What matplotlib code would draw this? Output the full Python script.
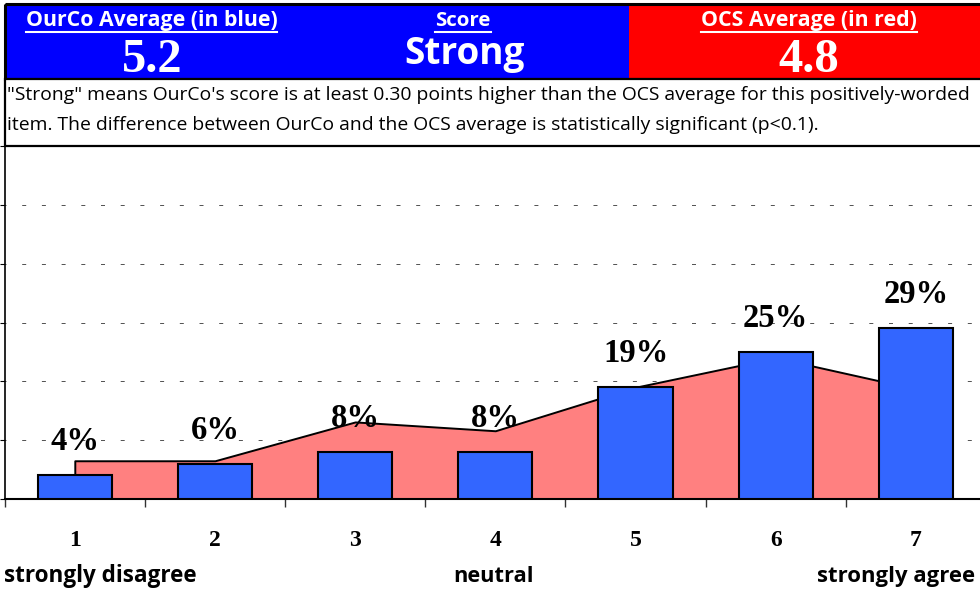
import matplotlib
matplotlib.use("Agg")
import matplotlib.pyplot as plt
from matplotlib.patches import Rectangle
from matplotlib.lines import Line2D

# --- data -------------------------------------------------------------
categories = ["1", "2", "3", "4", "5", "6", "7"]
ourco_pct = [4, 6, 8, 8, 19, 25, 29]
ocs_pct = [6.5, 6.5, 13.1, 11.6, 19.0, 24.0, 18.7]
ourco_avg = "5.2"
ocs_avg = "4.8"
score_label = "Strong"
header_titles = ["OurCo Average (in blue)", "Score", "OCS Average (in red)"]
description = [
    "\"Strong\" means OurCo's score is at least 0.30 points higher than the OCS average for this positively-worded",
    "item. The difference between OurCo and the OCS average is statistically significant (p<0.1).",
]
scale_labels = ["strongly disagree", "neutral", "strongly agree"]

SANS = ["Open Sans", "DejaVu Sans"]
SERIF = ["Liberation Serif", "DejaVu Serif"]

W, H = 980, 592
fig = plt.figure(figsize=(W / 100, H / 100), dpi=100)
renderer = fig.canvas.get_renderer()


def fit_width(t, width_px):
    """Rescale a text's font so its rendered width equals width_px."""
    bb = t.get_window_extent(renderer)
    t.set_fontsize(t.get_fontsize() * width_px / bb.width)
    return t


# --- chart axes -------------------------------------------------------
ax = fig.add_axes([4.7 / W, (H - 499) / H, 981.3 / W, 353 / H])
x = list(range(len(categories)))

ax.set_xlim(-0.5, 6.5)
ax.set_ylim(0, 60)
ax.set_axisbelow(True)

ax.fill_between(x, 0, ocs_pct, facecolor="#FF8080", edgecolor="black",
                linewidth=1.4, zorder=2)
ax.bar(x, ourco_pct, width=0.53, color="#3366FF", edgecolor="black",
       linewidth=1.5, zorder=3)

for xi, v in zip(x, ourco_pct):
    ax.annotate(f"{v}%", (xi, v), xytext=(0, 18), textcoords="offset points",
                ha="center", va="baseline", fontsize=23.5, fontweight="bold",
                family=SERIF, zorder=4)

ax.set_yticks(range(0, 61, 10))
ax.set_yticklabels([])
ax.tick_params(axis="y", direction="out", length=3.6, width=0.8, color="black")
ax.yaxis.grid(True, color="#555555", linewidth=0.72, linestyle=(3, (4, 15.7)))

ax.set_xticks(x)
ax.set_xticklabels(categories, fontsize=17, fontweight="bold", family=SERIF)
ax.tick_params(axis="x", length=0, pad=22.5)
ax.set_xticks([i - 0.5 for i in range(len(categories) + 1)], minor=True)
ax.tick_params(axis="x", which="minor", direction="out", length=5.8,
               width=1.0, color="#333333")

for side in ("top", "right"):
    ax.spines[side].set_visible(False)
ax.spines["left"].set_linewidth(1.2)
ax.spines["bottom"].set_linewidth(1.5)

# --- header overlay in pixel coordinates ------------------------------
ov = fig.add_axes([0, 0, 1, 1], zorder=5)
ov.set_xlim(0, W)
ov.set_ylim(H, 0)
ov.axis("off")
ov.patch.set_alpha(0)

ov.add_patch(Rectangle((4.5, 4.3), 629 - 4.5, 78.7 - 4.3, facecolor="#0000FF",
                       edgecolor="none"))
ov.add_patch(Rectangle((629, 4.3), 990 - 629, 78.7 - 4.3, facecolor="#FF0000",
                       edgecolor="none"))
ov.add_patch(Rectangle((4.5, 4.3), 990, 78.7 - 4.3, facecolor="none",
                       edgecolor="black", linewidth=2.2))
ov.add_patch(Rectangle((4.5, 78.7), 990, 145.5 - 78.7, facecolor="white",
                       edgecolor="black", linewidth=1.6))


def underlined(xc, y, s, width_px):
    t = ov.text(xc, y, s, ha="center", va="baseline", color="white",
                fontsize=14, fontweight="bold", family=SANS)
    fit_width(t, width_px)
    bb = t.get_window_extent(renderer)
    ov.add_line(Line2D([bb.x0, bb.x1], [y + 5.5, y + 5.5], color="white",
                       linewidth=1.5))


underlined(151.5, 26, header_titles[0], 252)
underlined(463, 26.5, header_titles[1], 56)
underlined(809, 26, header_titles[2], 217)

ov.text(152, 72.5, ourco_avg, ha="center", va="baseline", color="white",
        fontsize=35, fontweight="bold", family=SERIF)
ov.text(809, 72.5, ocs_avg, ha="center", va="baseline", color="white",
        fontsize=35, fontweight="bold", family=SERIF)
fit_width(ov.text(464, 64, score_label, ha="center", va="baseline",
                  color="white", fontsize=28, fontweight="bold", family=SANS),
          120)

d1 = ov.text(7, 100, description[0], ha="left", va="baseline", color="black",
             fontsize=13, family=SANS)
fit_width(d1, 960)
ov.text(7, 130, description[1], ha="left", va="baseline", color="black",
        fontsize=d1.get_fontsize(), family=SANS)

fit_width(ov.text(4, 582, scale_labels[0], ha="left", va="baseline",
                  fontsize=16, fontweight="bold", family=SANS), 193)
fit_width(ov.text(493, 582, scale_labels[1], ha="center", va="baseline",
                  fontsize=16, fontweight="bold", family=SANS), 80)
fit_width(ov.text(975, 582, scale_labels[2], ha="right", va="baseline",
                  fontsize=16, fontweight="bold", family=SANS), 158)

fig.savefig("out.png", dpi=100)
